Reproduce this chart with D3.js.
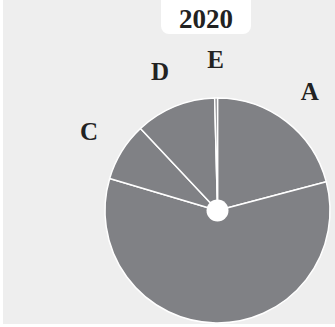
<!DOCTYPE html>
<html>
<head>
<meta charset="utf-8">
<script src="https://cdn.jsdelivr.net/npm/d3@7"></script>
<style>
  html, body { margin: 0; padding: 0; background: #ffffff; }
  svg { display: block; }
</style>
</head>
<body>
<svg id="chart"></svg>
<script>
// data (percent shares)
const categories = ["A", "B", "C", "D", "E"];
const values = [20.9, 58.7, 8.4, 11.6, 0.4];
const shownLabels = ["A", "C", "D", "E"]; // B's label falls outside the frame
const yearLabel = "2020";

const width = 335;
const height = 327;
const cx = 217.5, cy = 210.5;
const radius = 112.5;
const labelRadius = 151;

const svg = d3.select("#chart").attr("width", width).attr("height", height);

// panel background
svg.append("rect")
  .attr("x", 3).attr("y", 0)
  .attr("width", width - 3).attr("height", 324)
  .attr("fill", "#eeeeee");

// year tab
svg.append("rect")
  .attr("x", 161).attr("y", -10)
  .attr("width", 90).attr("height", 44)
  .attr("rx", 8)
  .attr("fill", "#ffffff");
svg.append("text")
  .attr("x", 206).attr("y", 27.5)
  .attr("text-anchor", "middle")
  .style("font-family", "'Liberation Serif', serif")
  .style("font-weight", "bold")
  .style("font-size", "27px")
  .attr("fill", "#222222")
  .text(yearLabel);

const pie = d3.pie().sort(null).value(d => d.value);
const arcs = pie(categories.map((c, i) => ({ cat: c, value: values[i] })));

const arc = d3.arc().innerRadius(0).outerRadius(radius);
const labelArc = d3.arc().innerRadius(labelRadius).outerRadius(labelRadius);

const g = svg.append("g").attr("transform", `translate(${cx},${cy})`);

g.selectAll("path.slice")
  .data(arcs)
  .enter()
  .append("path")
  .attr("class", "slice")
  .attr("d", arc)
  .attr("fill", "#808185")
  .attr("stroke", "#ffffff")
  .attr("stroke-width", 1.5)
  .attr("stroke-linejoin", "round");

// center hole
g.append("circle").attr("r", 11).attr("fill", "#ffffff");

g.selectAll("text.label")
  .data(arcs.filter(d => shownLabels.includes(d.data.cat)))
  .enter()
  .append("text")
  .attr("class", "label")
  .attr("transform", d => `translate(${labelArc.centroid(d)})`)
  .attr("text-anchor", "middle")
  .attr("dy", "0.35em")
  .style("font-family", "'Liberation Serif', serif")
  .style("font-weight", "bold")
  .style("font-size", "25px")
  .attr("fill", "#222222")
  .text(d => d.data.cat);
</script>
</body>
</html>
